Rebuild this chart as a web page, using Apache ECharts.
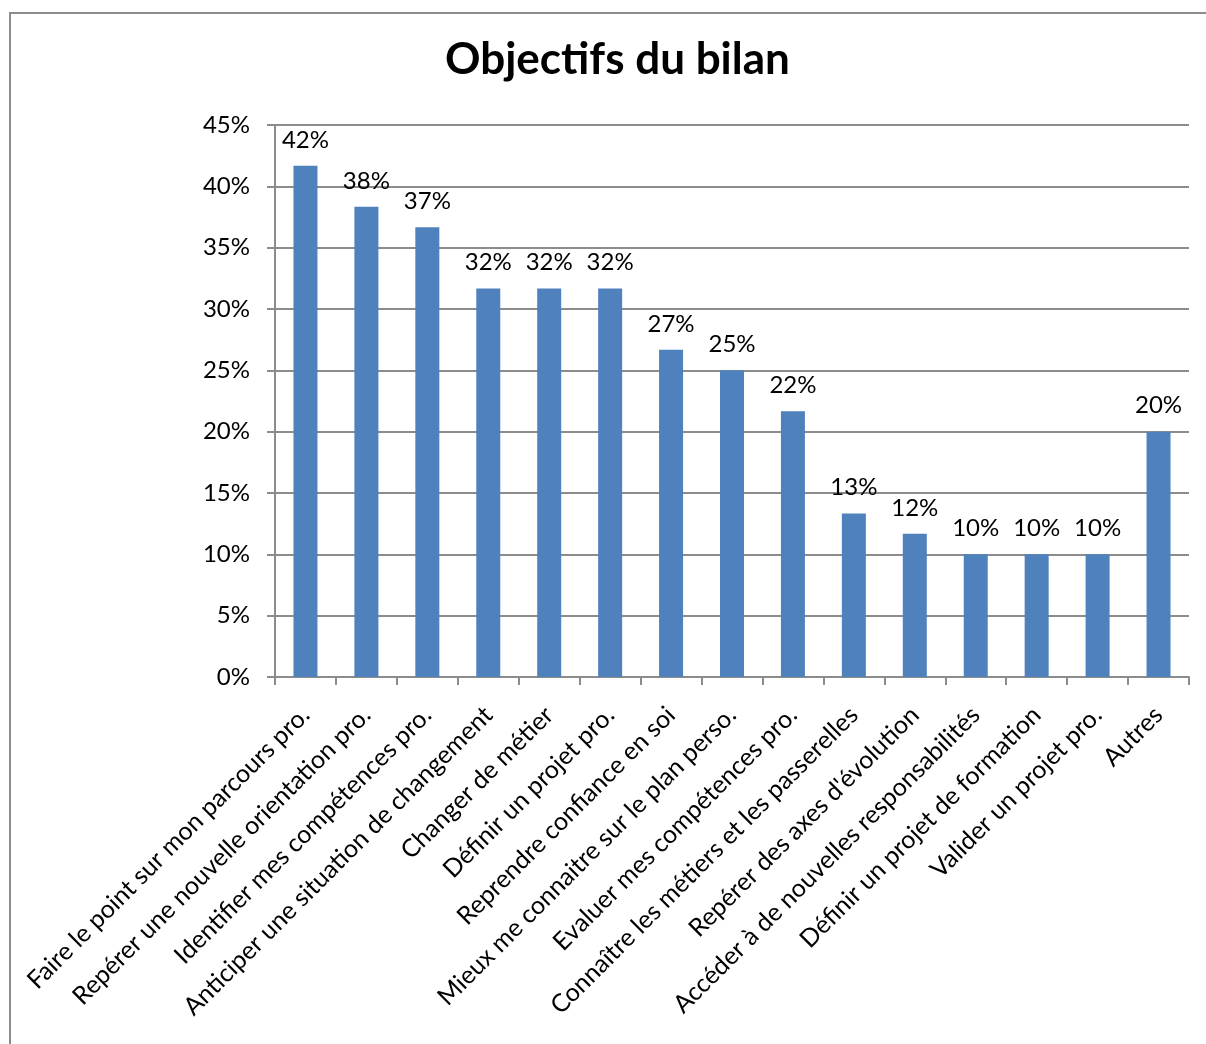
<!DOCTYPE html>
<html>
<head>
<meta charset="utf-8">
<script src="https://cdn.jsdelivr.net/npm/echarts@6/dist/echarts.min.js"></script>
<style>
html,body{margin:0;padding:0;background:#fff;}
#chart{width:1206px;height:1044px;}
</style>
</head>
<body>
<div id="chart"></div>
<script>
const titleText = 'Objectifs du bilan';
const categories = [
  'Faire le point sur mon parcours pro.',
  'Repérer une nouvelle orientation pro.',
  'Identifier mes compétences pro.',
  'Anticiper une situation de changement',
  'Changer de métier',
  'Définir un projet pro.',
  'Reprendre confiance en soi',
  'Mieux me connaitre sur le plan perso.',
  'Evaluer mes compétences pro.',
  'Connaître les métiers et les passerelles',
  'Repérer des axes d\'évolution',
  'Accéder à de nouvelles responsabilités',
  'Définir un projet de formation',
  'Valider un projet pro.',
  'Autres'
];
const values = [41.67, 38.33, 36.67, 31.67, 31.67, 31.67, 26.67, 25.0, 21.67, 13.33, 11.67, 10.0, 10.0, 10.0, 20.0];

const font = 'Lato, "Open Sans", sans-serif';
const gray = '#8c8c8c';
const chart = echarts.init(document.getElementById('chart'));
chart.setOption({
  animation: false,
  backgroundColor: '#fff',
  title: {
    text: titleText,
    left: 440, top: 33,
    textStyle: {fontFamily: font, fontWeight: 'bold', fontSize: 44, color: '#000'}
  },
  graphic: [{
    type: 'rect', shape: {x: 10, y: 13, width: 1400, height: 1200},
    style: {fill: 'none', stroke: gray, lineWidth: 2}, silent: true
  }],
  grid: {left: 275, right: 17, top: 125, bottom: 367, containLabel: false},
  xAxis: {
    type: 'category',
    data: categories,
    axisLine: {show: true, lineStyle: {color: gray, width: 2}},
    axisTick: {show: true, alignWithLabel: false, length: 8, lineStyle: {color: gray, width: 2}},
    axisLabel: {rotate: 45, interval: 0, margin: 34, fontFamily: font, fontSize: 25, color: '#000'}
  },
  yAxis: {
    type: 'value', min: 0, max: 45, interval: 5,
    axisLine: {show: true, lineStyle: {color: gray, width: 2}},
    axisTick: {show: true, length: 8, lineStyle: {color: gray, width: 2}},
    axisLabel: {formatter: '{value}%', margin: 25, fontFamily: font, fontSize: 24, color: '#000'},
    splitLine: {show: true, lineStyle: {color: gray, width: 2}}
  },
  series: [{
    type: 'bar',
    data: values,
    barWidth: 24,
    itemStyle: {color: '#4F81BD'},
    label: {
      show: true, position: 'top', distance: 14,
      fontFamily: font, fontSize: 24, color: '#000',
      formatter: p => Math.round(p.value) + '%'
    }
  }]
});
</script>
</body>
</html>
